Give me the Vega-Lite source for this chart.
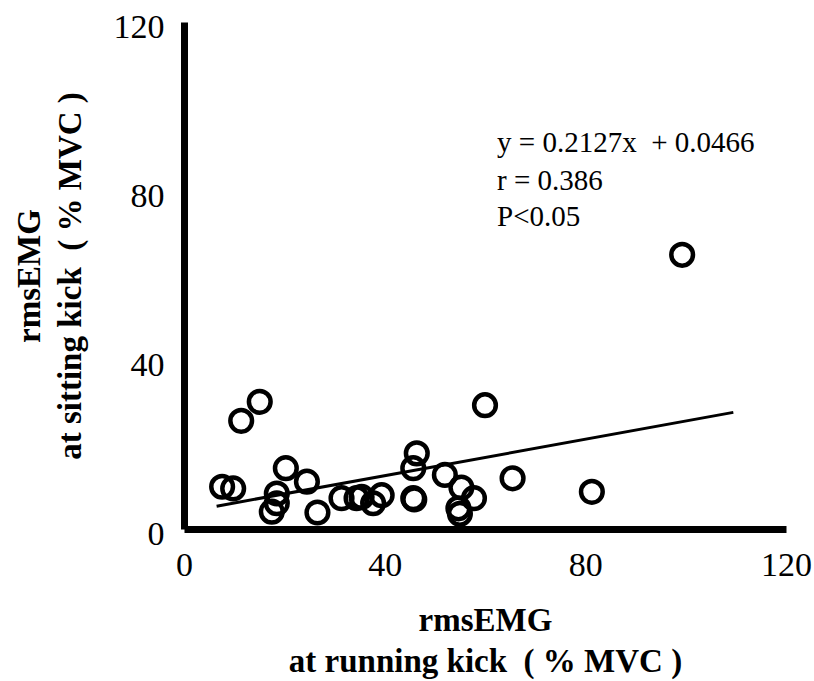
{
  "$schema": "https://vega.github.io/schema/vega-lite/v6.json",
  "width": 602,
  "height": 507,
  "autosize": {"type": "none"},
  "padding": {"left": 184, "top": 22, "right": 28, "bottom": 152},
  "background": "white",
  "config": {
    "view": {"stroke": null},
    "axis": {
      "grid": false,
      "ticks": false,
      "tickSize": 0,
      "domainColor": "black",
      "domainWidth": 7,
      "labelFont": "Liberation Serif",
      "labelFontSize": 34,
      "labelColor": "black",
      "titleFont": "Liberation Serif",
      "titleFontSize": 33,
      "titleFontWeight": "bold",
      "titleColor": "black",
      "titleLineHeight": 41
    }
  },
  "datasets": {
    "points": [
      {"x": 7.6, "y": 10.0},
      {"x": 9.8, "y": 9.6},
      {"x": 11.4, "y": 25.6},
      {"x": 15.1, "y": 30.1},
      {"x": 20.3, "y": 14.4},
      {"x": 18.5, "y": 8.4},
      {"x": 18.5, "y": 6.1},
      {"x": 17.5, "y": 4.1},
      {"x": 24.5, "y": 11.2},
      {"x": 26.6, "y": 3.9},
      {"x": 31.4, "y": 7.3},
      {"x": 34.4, "y": 7.3},
      {"x": 35.4, "y": 7.6},
      {"x": 37.7, "y": 6.1},
      {"x": 39.4, "y": 8.0},
      {"x": 45.7, "y": 7.3},
      {"x": 45.9, "y": 7.0},
      {"x": 46.4, "y": 17.9},
      {"x": 45.7, "y": 14.4},
      {"x": 52.0, "y": 12.8},
      {"x": 55.3, "y": 9.8},
      {"x": 57.8, "y": 7.3},
      {"x": 54.7, "y": 4.9},
      {"x": 55.0, "y": 3.6},
      {"x": 60.0, "y": 29.3},
      {"x": 65.5, "y": 12.0},
      {"x": 81.3, "y": 8.8},
      {"x": 99.3, "y": 64.9}
    ],
    "fit": [
      {"x": 6.5, "y": 5.4},
      {"x": 109.5, "y": 27.6}
    ],
    "notes": [
      {"x": 62.4, "y": 91.4, "label": "y = 0.2127x\u00a0 + 0.0466"},
      {"x": 62.4, "y": 82.4, "label": "r = 0.386"},
      {"x": 62.4, "y": 73.8, "label": "P<0.05"}
    ]
  },
  "layer": [
    {
      "data": {"name": "points"},
      "mark": {"type": "point", "shape": "circle", "filled": false, "stroke": "black", "strokeWidth": 4.5, "size": 470, "opacity": 1},
      "encoding": {
        "x": {
          "field": "x", "type": "quantitative",
          "scale": {"domain": [0, 120], "nice": false, "zero": true},
          "axis": {"values": [0, 40, 80, 120], "labelPadding": 19, "titlePadding": 22, "title": ["rmsEMG", "at running kick\u00a0 ( % MVC\u00a0)"], "labelFlush": false}
        },
        "y": {
          "field": "y", "type": "quantitative",
          "scale": {"domain": [0, 120], "nice": false, "zero": true},
          "axis": {"values": [0, 40, 80, 120], "labelPadding": 20, "labelOffset": 5, "titlePadding": 26, "title": ["rmsEMG", "at sitting kick\u00a0 ( % MVC\u00a0)"], "labelFlush": false}
        }
      }
    },
    {
      "data": {"name": "fit"},
      "mark": {"type": "line", "color": "black", "strokeWidth": 3},
      "encoding": {
        "x": {"field": "x", "type": "quantitative"},
        "y": {"field": "y", "type": "quantitative"}
      }
    },
    {
      "data": {"name": "notes"},
      "mark": {"type": "text", "align": "left", "baseline": "middle", "font": "Liberation Serif", "fontSize": 29, "color": "black"},
      "encoding": {
        "x": {"field": "x", "type": "quantitative"},
        "y": {"field": "y", "type": "quantitative"},
        "text": {"field": "label"}
      }
    }
  ]
}
